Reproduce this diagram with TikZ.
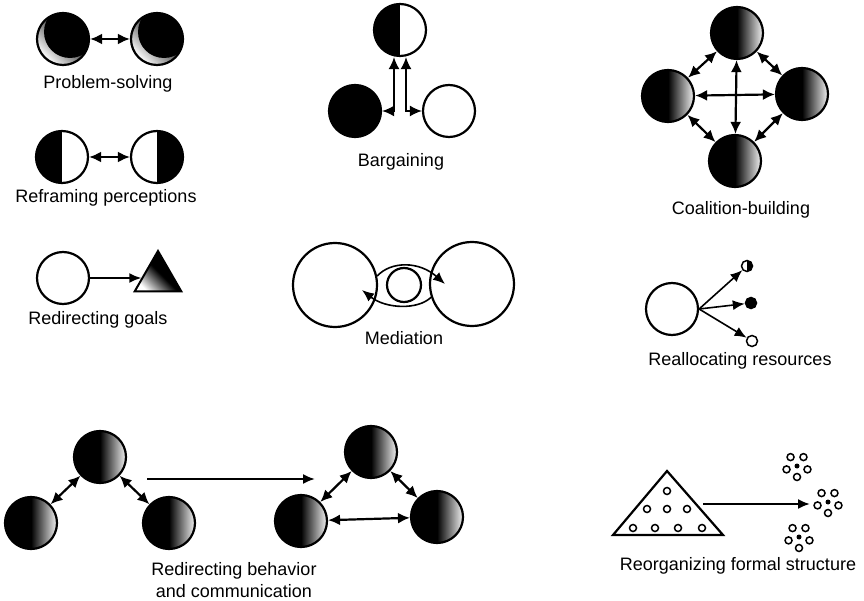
\documentclass[tikz,border=0pt]{standalone}
\usepackage{fontspec}
\setmainfont{Liberation Sans}
\usetikzlibrary{arrows.meta, shapes.geometric}

\begin{document}
\begin{tikzpicture}[x=1pt, y=-1pt,
    agent/.style={circle, draw, line width=2.2pt, minimum size=52pt, inner sep=0pt},
    dark/.style={agent, fill=black},
    blank/.style={agent, fill=white},
    halfleft/.style={agent, path picture={\fill (path picture bounding box.north west) rectangle (path picture bounding box.south);}},
    halfright/.style={agent, path picture={\fill (path picture bounding box.north east) rectangle (path picture bounding box.south);}},
    moon/.style={agent, left color=black, right color=gray!10, middle color=black},
    crescent/.style={agent, top color=white, bottom color=black, middle color=black!60, shading angle=135,
      path picture={\fill ([shift={(7pt,7pt)}]path picture bounding box.center) circle (26pt);}},
    goal/.style={regular polygon, regular polygon sides=3, minimum size=54pt, inner sep=0pt, draw, line width=2pt,
      top color=white, bottom color=black, middle color=black, shading angle=135},
    token/.style={circle, draw, line width=1.5pt, minimum size=11pt, inner sep=0pt},
    link/.style={line width=2.2pt, {Latex[length=12pt,width=11pt]}-{Latex[length=12pt,width=11pt]}},
    push/.style={line width=1.6pt, -{Latex[length=12pt,width=10pt]}},
    lbl/.style={font=\fontsize{18}{22}\selectfont, align=center}]
  \useasboundingbox (0,0) rectangle (864,601);

  % problem-solving
  \node[crescent] (ps1) at (63,39) {};
  \node[crescent] (ps2) at (157,39) {};
  \draw[link] (ps1) -- (ps2);
  \node[lbl] (psl) at (108,84) {Problem-solving};

  % reframing perceptions
  \node[halfleft] (rf1) at (62,157) {};
  \node[halfright] (rf2) at (157,157) {};
  \draw[link] (rf1) -- (rf2);
  \node[lbl] (rfl) at (106,198) {Reframing perceptions};

  % redirecting goals
  \node[blank] (rg1) at (63,278) {};
  \node[goal] (rg2) at (158,278) {};
  \draw[push] (rg1) -- (rg2);
  \node[lbl] (rgl) at (98,320) {Redirecting goals};

  % bargaining
  \node[halfleft] (bt) at (400,30) {};
  \node[dark] (bl) at (355,111) {};
  \node[blank] (br) at (449,111) {};
  \draw[link, line width=1.8pt] (bl.east) -| ([xshift=-6pt]bt.south);
  \draw[link, line width=1.8pt] (br.west) -| ([xshift=6pt]bt.south);
  \node[lbl] (bgl) at (401,162) {Bargaining};

  % mediation
  \node[agent, minimum size=84pt] (m1) at (335,285) {};
  \node[agent, minimum size=84pt] (m3) at (472,284) {};
  \node[agent, minimum size=34pt] (m2) at (404,285) {};
  \draw[push] (m1.12) .. controls (391,261) and (419,261) .. ([xshift=-27pt]m3.center);
  \draw[push] (m3.198) .. controls (418,310) and (386,309) .. ([shift={(27pt,-5pt)}]m1.center);
  \node[lbl] (mdl) at (404,338) {Mediation};

  % coalition-building
  \node[moon] (ct) at (737,33) {};
  \node[moon] (cl) at (668,96) {};
  \node[moon] (cr) at (802,94) {};
  \node[moon] (cb) at (735,161) {};
  \draw[link] (ct) -- (cb);
  \draw[link] (cl) -- (cr);
  \draw[link] (ct) -- (cl);
  \draw[link] (ct) -- (cr);
  \draw[link] (cb) -- (cl);
  \draw[link] (cb) -- (cr);
  \node[lbl] (cbl) at (741,210) {Coalition-building};

  % reallocating resources
  \node[blank] (ra) at (672,309) {};
  \node[token, path picture={\fill (path picture bounding box.north east) rectangle (path picture bounding box.south);}] (s1) at (747,266) {};
  \node[token, fill=black] (s2) at (751,303) {};
  \node[token] (s3) at (752,341) {};
  \draw[push] (ra.east) -- (s1);
  \draw[push] (ra.east) -- (s2);
  \draw[push] (ra.east) -- (s3);
  \node[lbl] (ral) at (740,361) {Reallocating resources};

  % redirecting behavior and communication
  \node[moon] (ot) at (100,457) {};
  \node[moon] (ol) at (31,523) {};
  \node[moon] (or) at (169,523) {};
  \draw[link] (ot) -- (ol);
  \draw[link] (ot) -- (or);
  \coordinate (shiftA) at (147,479);
  \coordinate (shiftB) at (315,479);
  \draw[push, line width=2pt] (shiftA) -- (shiftB);
  \node[moon] (nt) at (371,452) {};
  \node[moon] (nl) at (301,521) {};
  \node[moon] (nr) at (437,517) {};
  \draw[link] (nt) -- (nl);
  \draw[link] (nt) -- (nr);
  \draw[link] (nl) -- (nr);
  \node[lbl] (rbl) at (234,580) {Redirecting behavior\\and communication};

  % reorganizing formal structure
  \coordinate (ta) at (667,471);
  \coordinate (tl) at (613,535);
  \coordinate (tr) at (723,535);
  \draw[line width=2.2pt] (ta) -- (tl) -- (tr) -- cycle;
  \foreach \x/\y in {667/491, 647/509, 667/509, 687/509, 633/528, 655/528, 678/528, 702/528}
    \draw[line width=1.5pt] (\x,\y) circle (3.5);
  \coordinate (outA) at (703,504);
  \coordinate (outB) at (810,504);
  \draw[push, line width=2pt] (outA) -- (outB);
  \foreach \cx/\cy in {797/466, 828/502, 799/537} {
    \fill (\cx,\cy) circle (2.5);
    \foreach \a in {18,90,162,234,306}
      \draw[line width=1.5pt] (\cx,\cy) ++(\a:11) circle (3.5);
  }
  \node[lbl] (rfl2) at (738,566) {Reorganizing formal structure};
\end{tikzpicture}
\end{document}
